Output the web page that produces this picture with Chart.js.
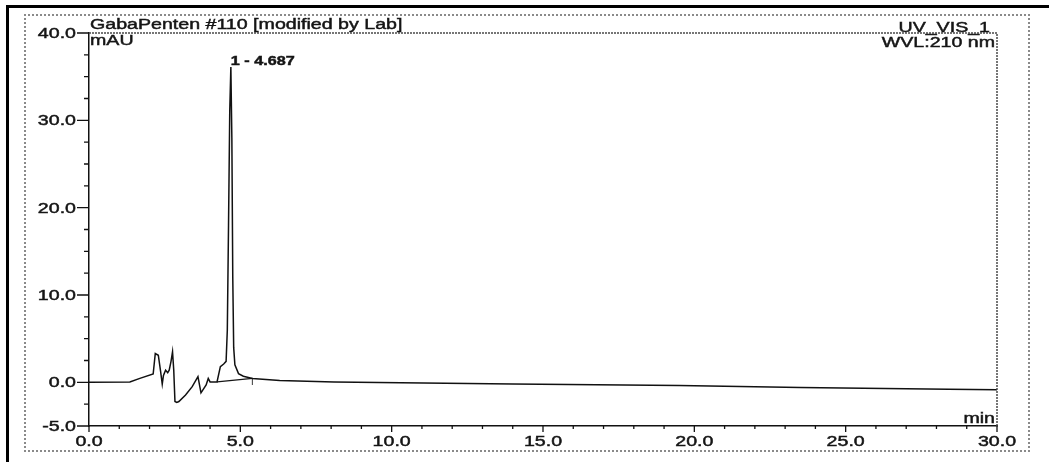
<!DOCTYPE html>
<html>
<head>
<meta charset="utf-8">
<title>GabaPenten #110</title>
<script src="https://cdn.jsdelivr.net/npm/chart.js@4.4.0/dist/chart.umd.min.js"></script>
<style>
  html, body { margin: 0; padding: 0; background: #fff; }
  #wrap { position: relative; width: 1049px; height: 462px; overflow: hidden; }
  #outer { position: absolute; left: 6px; top: 5px; width: 1100px; height: 500px;
           border-left: 3px solid #000; border-top: 3px solid #000; }
  #inner { position: absolute; left: 24px; top: 14px; width: 1006px; height: 438px;
           box-sizing: border-box; border: 2px dotted #8a8a8a; }
  #trace { position: absolute; left: 0; top: 0; }
</style>
</head>
<body>
<div id="wrap">
  <div id="outer"></div>
  <div id="inner"></div>
  <canvas id="trace" width="1049" height="462"></canvas>
</div>
<script>
// detector signal, mAU vs retention time, min
const times = [0, 1.35, 1.68, 2.12, 2.19, 2.29, 2.36, 2.42, 2.46, 2.53, 2.6, 2.65, 2.71, 2.76, 2.8,
  2.84, 2.9, 2.97, 3.19, 3.41, 3.6, 3.7, 3.87, 3.94, 4.0, 4.23, 4.34, 4.45, 4.53, 4.57, 4.61,
  4.65, 4.687, 4.72, 4.75, 4.78, 4.82, 4.94, 5.1, 5.4, 6.3, 8.1, 10.3, 14.0, 19.5, 23.5, 28.4, 30.0];
const signal = [0, 0.05, 0.45, 0.95, 3.3, 3.1, 1.4, -0.2, 0.8, 1.4, 1.1, 1.4, 2.4, 3.5, 1.4,
  -2.2, -2.3, -2.2, -1.45, -0.5, 0.65, -1.2, -0.3, 0.45, 0.05, 0.05, 1.8, 2.1, 2.4, 6, 18,
  31, 36.1, 28, 12, 4, 2.0, 1.0, 0.7, 0.45, 0.2, 0.05, -0.05, -0.2, -0.35, -0.6, -0.8, -0.85];

// integration baseline under peak 1 and its end marker
const baseTimes = [4.23, 5.4];
const baseValues = [0.05, 0.45];
const markTimes = [5.4, 5.4];
const markValues = [0.5, -0.3];

// peak annotation
const peakNo = 1;
const peakTime = 4.687;

// axis labels
const xLabelValues = [0, 5, 10, 15, 20, 25, 30];
const yLabelValues = [-5, 0, 10, 20, 30, 40];

const titleText = 'GabaPenten #110 [modified by Lab]';
const channelText = 'UV_VIS_1';
const wavelengthText = 'WVL:210 nm';
const yUnit = 'mAU';
const xUnit = 'min';

const FONT = '"Liberation Sans", Arial, sans-serif';
const STRETCH = 1.4;

function pts(xs, ys) {
  return xs.map((t, i) => ({ x: t, y: ys[i] }));
}

// printed text comes out wide and a bit heavy, so draw it scaled horizontally with a thin outline
function wideText(ctx, str, x, y, align, font, stretch) {
  const k = stretch || STRETCH;
  ctx.save();
  ctx.font = font;
  ctx.textAlign = 'left';
  const w = ctx.measureText(str).width * k;
  const left = align === 'right' ? x - w : align === 'center' ? x - w / 2 : x;
  ctx.translate(left, y);
  ctx.scale(k, 1);
  ctx.fillText(str, 0, 0);
  ctx.lineWidth = 0.45;
  ctx.strokeText(str, 0, 0);
  ctx.restore();
}

const frameAndText = {
  id: 'frameAndText',
  afterDraw(chart) {
    const { ctx, chartArea: a, scales: { x, y } } = chart;
    ctx.save();

    // top and right edges of the plot box
    ctx.strokeStyle = '#4a4a4a';
    ctx.lineWidth = 1.5;
    ctx.setLineDash([2, 1]);
    ctx.beginPath();
    ctx.moveTo(a.left, a.top);
    ctx.lineTo(a.right, a.top);
    ctx.lineTo(a.right, a.bottom);
    ctx.stroke();
    ctx.setLineDash([]);

    // tick marks, long ones where a label sits
    ctx.strokeStyle = '#111';
    ctx.lineWidth = 1.3;
    ctx.beginPath();
    x.ticks.forEach(t => {
      const px = x.getPixelForValue(t.value);
      const len = xLabelValues.includes(t.value) ? 6 : 3;
      ctx.moveTo(px, a.bottom);
      ctx.lineTo(px, a.bottom + len);
    });
    y.ticks.forEach(t => {
      const py = y.getPixelForValue(t.value);
      const len = yLabelValues.includes(t.value) ? 12 : 5;
      ctx.moveTo(a.left - len, py);
      ctx.lineTo(a.left, py);
    });
    ctx.stroke();

    ctx.fillStyle = '#151515';
    ctx.strokeStyle = '#151515';
    ctx.textBaseline = 'alphabetic';
    const f14 = '14px ' + FONT;
    xLabelValues.forEach(v => {
      wideText(ctx, v.toFixed(1), x.getPixelForValue(v), a.bottom + 20, 'center', f14);
    });
    yLabelValues.forEach(v => {
      wideText(ctx, v.toFixed(1), a.left - 13, y.getPixelForValue(v) + 5, 'right', f14);
    });

    wideText(ctx, titleText, a.left + 1, a.top - 4, 'left', f14);
    wideText(ctx, yUnit, a.left + 1, a.top + 12, 'left', f14);
    wideText(ctx, channelText, a.right - 7, a.top - 1, 'right', f14);
    wideText(ctx, wavelengthText, a.right - 2, a.top + 14, 'right', f14);
    wideText(ctx, xUnit, a.right - 2, a.bottom - 3, 'right', f14);

    // retention time label above the peak
    const px = x.getPixelForValue(peakTime);
    const py = y.getPixelForValue(signal[times.indexOf(peakTime)]);
    wideText(ctx, peakNo + ' - ' + peakTime.toFixed(3), px, py - 2, 'left', 'bold 12px ' + FONT, 1.35);

    ctx.restore();
  }
};

new Chart(document.getElementById('trace').getContext('2d'), {
  type: 'line',
  data: {
    datasets: [
      {
        label: 'UV_VIS_1',
        data: pts(times, signal),
        borderColor: '#111',
        borderWidth: 1.5,
        pointRadius: 0,
        tension: 0,
      },
      {
        label: 'baseline',
        data: pts(baseTimes, baseValues),
        borderColor: '#151515',
        borderWidth: 1.2,
        pointRadius: 0,
      },
      {
        label: 'marker',
        data: pts(markTimes, markValues),
        borderColor: '#555',
        borderWidth: 1,
        pointRadius: 0,
      },
    ],
  },
  options: {
    responsive: false,
    animation: false,
    layout: { padding: { left: 0, top: 33, right: 52, bottom: 0 } },
    plugins: {
      legend: { display: false },
      tooltip: { enabled: false },
    },
    scales: {
      x: {
        type: 'linear',
        min: 0,
        max: 30,
        ticks: { stepSize: 1, display: false },
        grid: { display: false, drawTicks: false },
        border: { display: true, color: '#111', width: 1.5 },
        afterFit(scale) { scale.height = 36; },
      },
      y: {
        min: -5,
        max: 40,
        ticks: { stepSize: 2.5, display: false },
        grid: { display: false, drawTicks: false },
        border: { display: true, color: '#111', width: 1.5 },
        afterFit(scale) { scale.width = 89; },
      },
    },
  },
  plugins: [frameAndText],
});
</script>
</body>
</html>
